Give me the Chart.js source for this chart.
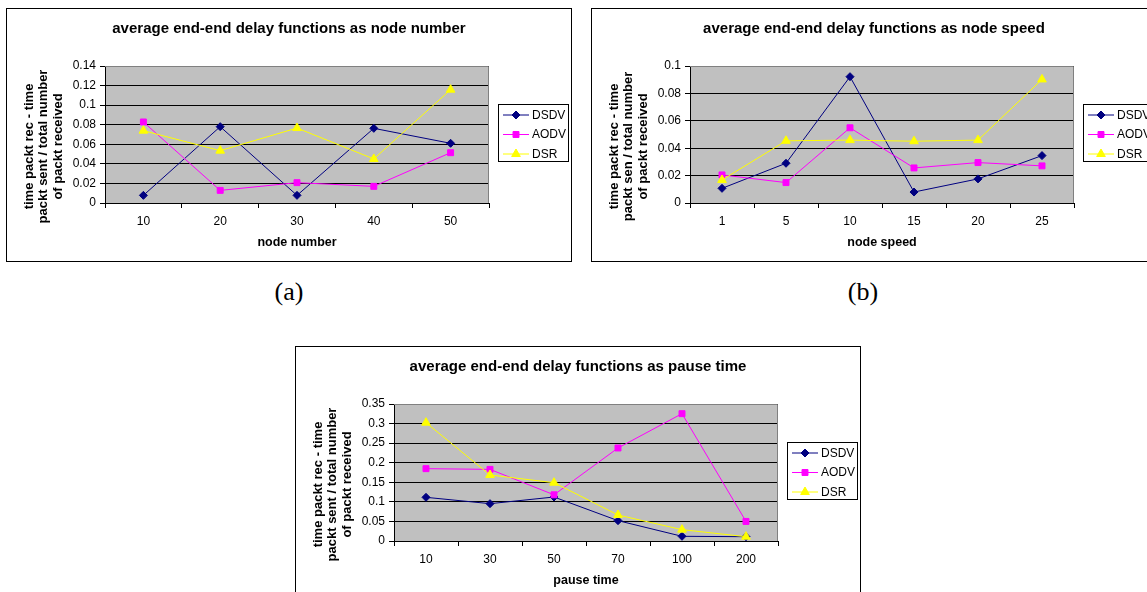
<!DOCTYPE html>
<html>
<head>
<meta charset="utf-8">
<title>average end-end delay</title>
<script src="https://cdn.jsdelivr.net/npm/chart.js@4.4.1/dist/chart.umd.min.js"></script>
<style>
  body { margin: 0; width: 1147px; height: 592px; overflow: hidden; background: #fff; position: relative;
         font-family: "Liberation Sans", Arial, sans-serif; }
  .box { position: absolute; width: 566px; height: 254px; box-sizing: border-box; border: 1px solid #000; background: #fff; }
  .box canvas { position: absolute; left: 0; top: 0; }
  .box .title { position: absolute; left: 0; width: 100%; top: 9.5px; text-align: center;
                font-weight: bold; font-size: 15px; line-height: 18px; color: #000; }
  .caption { position: absolute; width: 100px; text-align: center; line-height: 30px;
             font-family: "Liberation Serif", "Times New Roman", serif; font-size: 26px; color: #000; }
</style>
</head>
<body>

<div class="box" style="left:6px; top:8px;">
  <canvas id="chartA" width="564" height="252"></canvas>
  <div class="title">average end-end delay functions as node number</div>
</div>
<div class="caption" style="left:239px; top:277px;">(a)</div>

<div class="box" style="left:591px; top:8px;">
  <canvas id="chartB" width="564" height="252"></canvas>
  <div class="title">average end-end delay functions as node speed</div>
</div>
<div class="caption" style="left:813px; top:277px;">(b)</div>

<div class="box" style="left:295px; top:346px;">
  <canvas id="chartC" width="564" height="252"></canvas>
  <div class="title">average end-end delay functions as pause time</div>
</div>

<script>
// chart (a): delay vs node number
const nodeNumbers = ["10", "20", "30", "40", "50"];
const dsdvA = [0.0078, 0.078, 0.0078, 0.0763, 0.061];
const aodvA = [0.0828, 0.0129, 0.0208, 0.017, 0.0514];
const dsrA = [0.0739, 0.0535, 0.0766, 0.045, 0.1158];
const yTicksA = [0, 0.02, 0.04, 0.06, 0.08, 0.1, 0.12, 0.14];

// chart (b): delay vs node speed
const nodeSpeeds = ["1", "5", "10", "15", "20", "25"];
const dsdvB = [0.0107, 0.029, 0.0922, 0.008, 0.0176, 0.0346];
const aodvB = [0.0205, 0.0149, 0.0549, 0.0256, 0.0295, 0.0271];
const dsrB = [0.0168, 0.0454, 0.0459, 0.0451, 0.0459, 0.0902];
const yTicksB = [0, 0.02, 0.04, 0.06, 0.08, 0.1];

// chart (c): delay vs pause time
const pauseTimes = ["10", "30", "50", "70", "100", "200"];
const dsdvC = [0.1116, 0.0954, 0.1124, 0.052, 0.012, 0.011];
const aodvC = [0.1848, 0.183, 0.118, 0.2376, 0.3253, 0.05];
const dsrC = [0.3023, 0.1686, 0.149, 0.0664, 0.029, 0.011];
const yTicksC = [0, 0.05, 0.1, 0.15, 0.2, 0.25, 0.3, 0.35];

const seriesNames = ["DSDV", "AODV", "DSR"];
const seriesColors = ["#000080", "#FF00FF", "#FFFF00"];
const seriesMarkers = ["rectRot", "rect", "triangle"];
const markerSizes = [4, 4.2, 5];

Chart.defaults.font.family = '"Liberation Sans", Arial, sans-serif';
Chart.defaults.color = "#000";

// grey plot background, grey frame, y title, bordered legend
const excelLook = {
  id: "excelLook",
  beforeDraw(chart) {
    const { ctx, chartArea: a } = chart;
    ctx.save();
    ctx.fillStyle = "#C0C0C0";
    ctx.fillRect(a.left, a.top, a.right - a.left, a.bottom - a.top);
    ctx.restore();
  },
  beforeDatasetsDraw(chart) {
    const { ctx, chartArea: a } = chart;
    ctx.save();
    ctx.strokeStyle = "#808080";
    ctx.lineWidth = 1;
    ctx.beginPath();
    ctx.moveTo(a.left, a.top + 0.5);
    ctx.lineTo(a.right - 0.5, a.top + 0.5);
    ctx.lineTo(a.right - 0.5, a.bottom);
    ctx.stroke();
    ctx.restore();
  },
  afterDraw(chart, args, opts) {
    const { ctx, chartArea: a } = chart;
    ctx.save();

    // y axis title, three rotated lines, sitting a bit below the plot middle
    ctx.font = 'bold 13px "Liberation Sans", Arial, sans-serif';
    ctx.fillStyle = "#000";
    ctx.textAlign = "center";
    ctx.textBaseline = "middle";
    const midY = (a.top + a.bottom) / 2 + 12;
    opts.yTitle.forEach((line, i) => {
      ctx.save();
      ctx.translate(22 + i * 14.8, midY);
      ctx.rotate(-Math.PI / 2);
      ctx.fillText(line, 0, 0);
      ctx.restore();
    });

    // legend
    const lx = 491, ly = 95, lw = 71, lh = 58;
    ctx.textAlign = "left";
    ctx.fillStyle = "#fff";
    ctx.fillRect(lx, ly, lw, lh);
    ctx.strokeStyle = "#000";
    ctx.lineWidth = 1;
    ctx.strokeRect(lx + 0.5, ly + 0.5, lw - 1, lh - 1);
    ctx.font = '12px "Liberation Sans", Arial, sans-serif';
    seriesNames.forEach((name, i) => {
      const y = ly + 11 + i * 19.5;
      ctx.strokeStyle = seriesColors[i];
      ctx.fillStyle = seriesColors[i];
      ctx.beginPath();
      ctx.moveTo(lx + 5, y);
      ctx.lineTo(lx + 31, y);
      ctx.stroke();
      Chart.helpers.drawPoint(ctx, { pointStyle: seriesMarkers[i], radius: markerSizes[i], rotation: 0, borderWidth: 1 }, lx + 18, y);
      ctx.fillStyle = "#000";
      ctx.fillText(name, lx + 34, y + 0.5);
    });
    ctx.restore();
  },
};

function makeChart(id, labels, series, yTicks, xTitle, yTitle) {
  const ctx = document.getElementById(id).getContext("2d");
  return new Chart(ctx, {
    type: "line",
    data: {
      labels: labels,
      datasets: series.map((values, i) => ({
        label: seriesNames[i],
        data: values,
        borderColor: seriesColors[i],
        backgroundColor: seriesColors[i],
        borderWidth: 1,
        pointStyle: seriesMarkers[i],
        pointRadius: markerSizes[i],
        pointBorderWidth: 1,
        tension: 0,
        order: 2 - i,
      })),
    },
    options: {
      responsive: false,
      animation: false,
      devicePixelRatio: 1,
      layout: { padding: { top: 57, right: 82, left: 0, bottom: 0 } },
      plugins: {
        legend: { display: false },
        tooltip: { enabled: false },
        excelLook: { yTitle: yTitle },
      },
      scales: {
        x: {
          offset: true,
          grid: { offset: true, drawOnChartArea: false, color: "#000", tickLength: 5 },
          border: { color: "#000" },
          ticks: { font: { size: 12 }, padding: 6, maxRotation: 0 },
          title: { display: true, text: xTitle, font: { size: 12.5, weight: "bold" }, padding: { top: 0, bottom: 11 } },
          afterFit(scale) { scale.height = 58; },
        },
        y: {
          min: yTicks[0],
          max: yTicks[yTicks.length - 1],
          afterBuildTicks(scale) { scale.ticks = yTicks.map((v) => ({ value: v })); },
          grid: { color: "#000", tickLength: 5 },
          border: { color: "#000" },
          ticks: { font: { size: 12 }, padding: 4, callback: (v) => String(+v.toFixed(3)) },
          afterFit(scale) { scale.width = 98; },
        },
      },
    },
    plugins: [excelLook],
  });
}

makeChart("chartA", nodeNumbers, [dsdvA, aodvA, dsrA], yTicksA, "node number",
  ["time packt rec - time", "packt sent / total number", "of packt received"]);
makeChart("chartB", nodeSpeeds, [dsdvB, aodvB, dsrB], yTicksB, "node speed",
  ["time packt rec - time", "packt sen / total number", "of packt received"]);
makeChart("chartC", pauseTimes, [dsdvC, aodvC, dsrC], yTicksC, "pause time",
  ["time packt rec - time", "packt sent / total number", "of packt received"]);
</script>
</body>
</html>
